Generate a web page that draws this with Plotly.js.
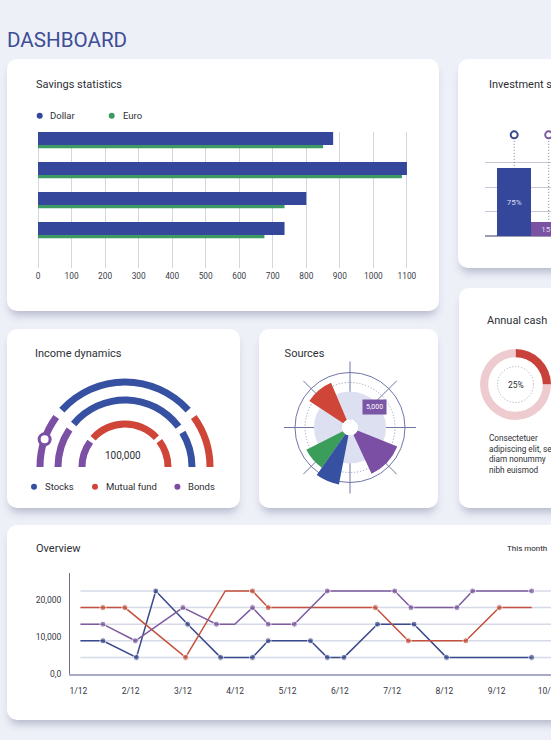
<!DOCTYPE html>
<html>
<head>
<meta charset="utf-8">
<script src="https://cdn.plot.ly/plotly-3.0.1.min.js"></script>
<style>
html,body{margin:0;padding:0;width:551px;height:740px;overflow:hidden;background:#eef0f8;font-family:Roboto,"Open Sans",sans-serif;}
#dash{position:absolute;left:7px;top:27px;font-size:20.6px;line-height:26px;color:#3f4d96;}
.card{position:absolute;background:#fff;border-radius:10px;box-shadow:0 7px 8px -3px rgba(50,56,100,0.30);overflow:hidden;}
.card > div{position:absolute;left:0;top:0;}
</style>
</head>
<body>
<div id="dash">DASHBOARD</div>
<div class="card" style="left:7px;top:59px;width:432px;height:252px;"><div id="savings"></div></div>
<div class="card" style="left:458px;top:59px;width:260px;height:209px;"><div id="invest"></div></div>
<div class="card" style="left:7px;top:329px;width:233px;height:179px;"><div id="income"></div></div>
<div class="card" style="left:259px;top:329px;width:179px;height:179px;"><div id="sources"></div></div>
<div class="card" style="left:459px;top:288px;width:200px;height:220px;"><div id="cash"></div></div>
<div class="card" style="left:7px;top:525px;width:620px;height:195px;"><div id="overview"></div></div>
<script>
// ---------------- DATA ----------------
// Savings statistics
const savingsRows = ['Row 1', 'Row 2', 'Row 3', 'Row 4'];
const dollarValues = [880, 1100, 800, 735];
const euroValues = [850, 1085, 735, 675];
const savingsTicks = [0, 100, 200, 300, 400, 500, 600, 700, 800, 900, 1000, 1100];

// Investment statistics
const investCategories = ['A', 'B'];
const investValues = [75, 15];
const investLabels = ['75%', '15%'];
const investTargets = [112, 112];
const investGrid = [27, 54, 81];

// Income dynamics (segment spans in degrees of the half ring, left to right)
const outerRingSeries = ['Bonds', 'Stocks', 'Mutual fund'];
const outerRingSpans = [36, 96, 36];
const middleRingSeries = ['Bonds', 'Stocks', 'Stocks'];
const middleRingSpans = [34, 103, 31];
const innerRingSeries = ['Bonds', 'Mutual fund', 'Mutual fund'];
const innerRingSpans = [36, 95, 37];
const bondsHandleAngle = [161];
const incomeTotal = '100,000';
const incomeLegend = ['Stocks', 'Mutual fund', 'Bonds'];

// Sources
const sourceNames = ['Red', 'Purple', 'Green', 'Blue'];
const sourceRadius = [48.5, 51, 49, 58];
const sourceAngle = [130, -43.5, 221, 247];
const sourceSpan = [34, 43, 28, 24];
const sourceDisc = [36];
const sourceLabel = '5,000';

// Annual cash
const cashShare = [25, 75];
const cashLabel = '25%';
const cashText = ['Consectetuer', 'adipiscing elit, sed', 'diam nonummy', 'nibh euismod'];

// Overview
const monthTicks = [1, 2, 3, 4, 5, 6, 7, 8, 9, 10];
const monthLabels = ['1/12', '2/12', '3/12', '4/12', '5/12', '6/12', '7/12', '8/12', '9/12', '10/12'];
const navyX = [1.04, 1.47, 2.11, 2.48, 3.09, 3.72, 4.33, 4.63, 5.44, 5.76, 6.08, 6.72, 7.42, 8.04, 9.67];
const navyY = [9000, 9000, 4500, 22500, 13500, 4500, 4500, 9000, 9000, 4500, 4500, 13500, 13500, 4500, 4500];
const redX = [1.04, 1.47, 1.89, 3.05, 3.81, 4.33, 4.63, 6.68, 7.31, 8.41, 9.05, 9.67];
const redY = [18000, 18000, 18000, 4500, 22500, 22500, 18000, 18000, 9000, 9000, 18000, 18000];
const purpleX = [1.04, 1.47, 2.09, 3.0, 3.64, 3.99, 4.33, 4.63, 5.13, 5.76, 7.05, 7.36, 8.24, 8.54, 9.67];
const purpleY = [13500, 13500, 9000, 18000, 13500, 13500, 18000, 13500, 13500, 22500, 22500, 18000, 18000, 22500, 22500];
const overviewYTicks = [0, 10000, 20000];
const overviewYLabels = ['0,0', '10,000', '20,000'];

// ---------------- STYLE ----------------
const FONT = 'Roboto, "Open Sans", sans-serif';
const TXT = '#2d2f35';
const DOT = '1px,2px';
const C = {
  dollar: '#34479a', euro: '#3d9a62',
  stocks: '#3650a2', mutual: '#cf4538', bonds: '#7b4fa3',
  navy: '#3b4a8c', red: '#c4513f', purple: '#7d5c9e'
};
const seriesColor = {'Stocks': C.stocks, 'Mutual fund': C.mutual, 'Bonds': C.bonds};
const CFG = {staticPlot: true, displayModeBar: false};

function conv(W, H, m) {
  const pw = W - m.l - m.r, ph = H - m.t - m.b;
  return {x: v => (v - m.l) / pw, y: v => 1 - (v - m.t) / ph};
}
function titleAt(text, x, y, W, H) {
  return {text: text, font: {family: FONT, size: 11, color: TXT}, xref: 'container', yref: 'container',
    x: x / W, y: 1 - y / H, xanchor: 'left', yanchor: 'middle', pad: {t: 0, b: 0, l: 0, r: 0}};
}
function legend(h, items, y, size) {
  const shapes = [], ann = [];
  items.forEach(it => {
    shapes.push({type: 'circle', xref: 'paper', yref: 'paper', xsizemode: 'pixel', ysizemode: 'pixel',
      xanchor: h.x(it.mx), yanchor: h.y(y), x0: -3, x1: 3, y0: -3, y1: 3,
      fillcolor: it.color, line: {width: 0}});
    ann.push({xref: 'paper', yref: 'paper', x: h.x(it.tx), y: h.y(y), xanchor: 'left', yanchor: 'middle',
      text: it.text, showarrow: false, font: {family: FONT, size: size, color: TXT}});
  });
  return {shapes, ann};
}

// ---------------- 1. Savings ----------------
(function () {
  const W = 432, H = 252, m = {l: 29, r: 22, t: 73, b: 43};
  const h = conv(W, H, m);
  const pos = savingsRows.map((_, i) => i);
  const lg = legend(h, [
    {mx: 32.7, tx: 41, color: C.dollar, text: 'Dollar'},
    {mx: 104.7, tx: 113.5, color: C.euro, text: 'Euro'}
  ], 56.7, 9.5);
  Plotly.newPlot('savings', [
    {type: 'bar', orientation: 'h', name: 'Dollar', y: pos, x: dollarValues, offset: 0, width: 0.433,
      marker: {color: C.dollar, line: {width: 0}}, hoverinfo: 'skip', showlegend: false},
    {type: 'bar', orientation: 'h', name: 'Euro', y: pos, x: euroValues, offset: 0.433, width: 0.11,
      marker: {color: C.euro, line: {width: 0}}, hoverinfo: 'skip', showlegend: false}
  ], {
    width: W, height: H, margin: m, paper_bgcolor: 'rgba(0,0,0,0)', plot_bgcolor: 'rgba(0,0,0,0)',
    font: {family: FONT, color: TXT}, barmode: 'overlay', showlegend: false,
    title: titleAt('Savings statistics', 29, 25, W, H),
    xaxis: {range: [-6, 1130], tickvals: savingsTicks, showgrid: true, gridcolor: '#d3d5e1', gridwidth: 1,
      zeroline: false, showline: false, ticks: '', ticklabelstandoff: 2, tickfont: {size: 8.3, color: '#3b3d48'}},
    yaxis: {range: [4.533, 0], visible: false, showgrid: false, zeroline: false},
    shapes: lg.shapes, annotations: lg.ann
  }, CFG);
})();

// ---------------- 2. Investment ----------------
(function () {
  const W = 260, H = 209, m = {l: 27, r: 20, t: 64, b: 32};
  const pos = investCategories.map((_, i) => i);
  const drops = pos.map(i => ({type: 'scatter', mode: 'lines', x: [i, i], y: [investTargets[i], investValues[i]],
    line: {color: '#7f8196', width: 1, dash: DOT}, hoverinfo: 'skip', showlegend: false}));
  Plotly.newPlot('invest', [
    {type: 'bar', x: pos, y: investValues, text: investLabels, textposition: 'inside', insidetextanchor: 'middle',
      constraintext: 'none', textangle: 0, textfont: {size: 8, color: '#d9ddf3', family: FONT},
      marker: {color: [C.dollar, '#7b51a2'], line: {width: 0}}, hoverinfo: 'skip', showlegend: false},
    ...drops,
    {type: 'scatter', mode: 'markers', x: pos, y: investTargets,
      marker: {size: 7, color: '#ffffff', line: {width: 2, color: [C.navy, '#7b5aa0']}},
      hoverinfo: 'skip', showlegend: false}
  ], {
    width: W, height: H, margin: m, paper_bgcolor: 'rgba(0,0,0,0)', plot_bgcolor: 'rgba(0,0,0,0)',
    font: {family: FONT, color: TXT}, bargap: 0, showlegend: false,
    title: titleAt('Investment statistics', 31, 25, W, H),
    xaxis: {range: [-0.846, 5.328], visible: false, showgrid: false, zeroline: false},
    yaxis: {range: [0, 125.1], tickvals: investGrid, showgrid: true, gridcolor: '#c5c7d5', gridwidth: 1,
      zeroline: true, zerolinecolor: '#9a9cb2', zerolinewidth: 1.5, showticklabels: false, ticks: '', showline: false}
  }, CFG);
})();

// ---------------- 3. Income dynamics ----------------
(function () {
  const W = 233, H = 179, m = {l: 0, r: 0, t: 0, b: 0};
  const h = conv(W, H, m);
  const GAP = 6, THICK = 7;
  function ring(series, spans, radius) {
    let start = 180;
    const theta = [], width = [], colors = [];
    spans.forEach((s, i) => {
      theta.push(start - s / 2); width.push(s); colors.push(seriesColor[series[i]]);
      start -= s + GAP;
    });
    return {type: 'barpolar', theta: theta, width: width, r: spans.map(() => THICK),
      base: spans.map(() => radius - THICK / 2), marker: {color: colors, line: {width: 0}},
      hoverinfo: 'skip', showlegend: false};
  }
  const lg = legend(h, [
    {mx: 27, tx: 36, color: C.stocks, text: incomeLegend[0]},
    {mx: 88, tx: 96.7, color: C.mutual, text: incomeLegend[1]},
    {mx: 170.4, tx: 179, color: C.bonds, text: incomeLegend[2]}
  ], 157.7, 9.5);
  lg.ann.push({xref: 'paper', yref: 'paper', x: h.x(116), y: h.y(126), xanchor: 'center', yanchor: 'middle',
    text: incomeTotal, showarrow: false, font: {family: FONT, size: 10, color: TXT}});
  Plotly.newPlot('income', [
    ring(outerRingSeries, outerRingSpans, 85),
    ring(middleRingSeries, middleRingSpans, 67),
    ring(innerRingSeries, innerRingSpans, 43),
    {type: 'scatterpolar', mode: 'markers', r: bondsHandleAngle.map(() => 85), theta: bondsHandleAngle,
      marker: {size: 11, color: '#ffffff', line: {width: 3, color: C.bonds}}, hoverinfo: 'skip', showlegend: false}
  ], {
    width: W, height: H, margin: m, paper_bgcolor: 'rgba(0,0,0,0)', font: {family: FONT, color: TXT},
    showlegend: false, title: titleAt('Income dynamics', 28, 24, W, H),
    polar: {domain: {x: [28 / W, 208 / W], y: [41 / H, 131 / H]}, sector: [0, 180], bgcolor: 'rgba(0,0,0,0)',
      radialaxis: {range: [0, 90], visible: false}, angularaxis: {visible: false}},
    shapes: lg.shapes, annotations: lg.ann
  }, CFG);
})();

// ---------------- 4. Sources ----------------
(function () {
  const W = 179, H = 179, m = {l: 0, r: 0, t: 0, b: 0};
  const h = conv(W, H, m);
  const dom = {x: [25 / W, 157 / W], y: [14.5 / H, 146.5 / H]};
  const HOLE = 8 / 66;
  const sectorColors = [C.mutual, C.bonds, '#3a9e5a', C.stocks];
  Plotly.newPlot('sources', [
    {type: 'barpolar', subplot: 'polar', r: sourceDisc, theta: [0], width: [360],
      marker: {color: '#dde0f0', line: {width: 0}}, hoverinfo: 'skip', showlegend: false},
    {type: 'barpolar', subplot: 'polar2', r: sourceRadius, theta: sourceAngle, width: sourceSpan,
      text: sourceNames, marker: {color: sectorColors, line: {width: 0}}, hoverinfo: 'skip', showlegend: false}
  ], {
    width: W, height: H, margin: m, paper_bgcolor: 'rgba(0,0,0,0)', font: {family: FONT, color: TXT},
    showlegend: false, title: titleAt('Sources', 25.6, 24, W, H),
    polar: {domain: dom, hole: HOLE, bgcolor: 'rgba(0,0,0,0)',
      radialaxis: {range: [8, 66], tickvals: [55], showgrid: true, gridcolor: '#6f76a6', gridwidth: 1,
        showline: false, showticklabels: false, ticks: ''},
      angularaxis: {dtick: 45, showgrid: true, gridcolor: '#6f76a6', gridwidth: 1, showline: false,
        showticklabels: false, ticks: ''}},
    polar2: {domain: dom, hole: HOLE, bgcolor: 'rgba(0,0,0,0)',
      radialaxis: {range: [8, 66], tickvals: [45], showgrid: true, gridcolor: '#8d93b8', gridwidth: 1, griddash: DOT,
        showline: false, showticklabels: false, ticks: ''},
      angularaxis: {showgrid: false, showline: false, showticklabels: false, ticks: ''}},
    annotations: [{xref: 'paper', yref: 'paper', x: h.x(115), y: h.y(77.5), xanchor: 'center', yanchor: 'middle',
      text: sourceLabel, showarrow: false, bgcolor: '#7b55a6', borderpad: 3,
      font: {family: FONT, size: 7, color: '#ffffff'}}]
  }, CFG);
})();

// ---------------- 5. Annual cash ----------------
(function () {
  const W = 200, H = 220, m = {l: 0, r: 0, t: 0, b: 0};
  const h = conv(W, H, m);
  Plotly.newPlot('cash', [
    {type: 'pie', values: cashShare, sort: false, direction: 'clockwise', rotation: 0, hole: 0.77,
      marker: {colors: ['#c8413b', '#eecbcf'], line: {width: 0}}, textinfo: 'none', hoverinfo: 'skip',
      showlegend: false, domain: {x: [0.105, 0.46], y: [0.4, 0.7227]}}
  ], {
    width: W, height: H, margin: m, paper_bgcolor: 'rgba(0,0,0,0)', font: {family: FONT, color: TXT},
    showlegend: false, title: titleAt('Annual cash', 28, 32, W, H),
    shapes: [{type: 'circle', xref: 'paper', yref: 'paper', xsizemode: 'pixel', ysizemode: 'pixel',
      xanchor: h.x(56.5), yanchor: h.y(96.5), x0: -18, x1: 18, y0: -18, y1: 18,
      line: {color: '#a2a4b4', width: 1, dash: DOT}}],
    annotations: [
      {xref: 'paper', yref: 'paper', x: h.x(57), y: h.y(97), xanchor: 'center', yanchor: 'middle',
        text: cashLabel, showarrow: false, font: {family: FONT, size: 8.5, color: TXT}},
      {xref: 'paper', yref: 'paper', x: h.x(28), y: h.y(143), xanchor: 'left', yanchor: 'top', align: 'left',
        text: cashText.join('<br>'), showarrow: false, font: {family: FONT, size: 8.2, color: TXT}}
    ]
  }, CFG);
})();

// ---------------- 6. Overview ----------------
(function () {
  const W = 620, H = 195, m = {l: 62.6, r: 20, t: 48, b: 46};
  const h = conv(W, H, m);
  function line(x, y, color, hide) {
    return {type: 'scatter', mode: 'lines+markers', x: x, y: y,
      line: {color: color, width: 1.5}, marker: {color: color, size: x.map((_, i) => hide.indexOf(i) >= 0 ? 0 : 6)},
      hoverinfo: 'skip', showlegend: false};
  }
  const grid = [];
  for (let v = 4500; v < 27000; v += 4500) {
    grid.push({type: 'line', layer: 'below', xref: 'x', yref: 'y', x0: 1.04, x1: 11.11, y0: v, y1: v,
      line: {color: '#d6d9e8', width: 1.5}});
  }
  Plotly.newPlot('overview', [
    line(navyX, navyY, C.navy, [0]),
    line(redX, redY, C.red, [0, 4, 11]),
    line(purpleX, purpleY, C.purple, [0, 5])
  ], {
    width: W, height: H, margin: m, paper_bgcolor: 'rgba(0,0,0,0)', plot_bgcolor: 'rgba(0,0,0,0)',
    font: {family: FONT, color: TXT}, showlegend: false,
    title: titleAt('Overview', 29, 23, W, H),
    xaxis: {range: [0.84, 11.11], tickvals: monthTicks, ticktext: monthLabels, showgrid: false, zeroline: false,
      showline: true, linecolor: '#a8abc5', linewidth: 1.5, ticks: '', ticklabelstandoff: 8,
      tickfont: {size: 8.5, color: '#34363f'}},
    yaxis: {range: [0, 27370], tickvals: overviewYTicks, ticktext: overviewYLabels, showgrid: false, zeroline: false,
      showline: true, linecolor: '#6f7288', linewidth: 1, ticks: '', ticklabelstandoff: 6,
      tickfont: {size: 8.5, color: '#34363f'}},
    shapes: grid,
    annotations: [{xref: 'paper', yref: 'paper', x: h.x(498), y: h.y(23), xanchor: 'left', yanchor: 'middle',
      text: 'This month', showarrow: false, font: {family: FONT, size: 8, color: '#222'}}]
  }, CFG);
})();
</script>
</body>
</html>
